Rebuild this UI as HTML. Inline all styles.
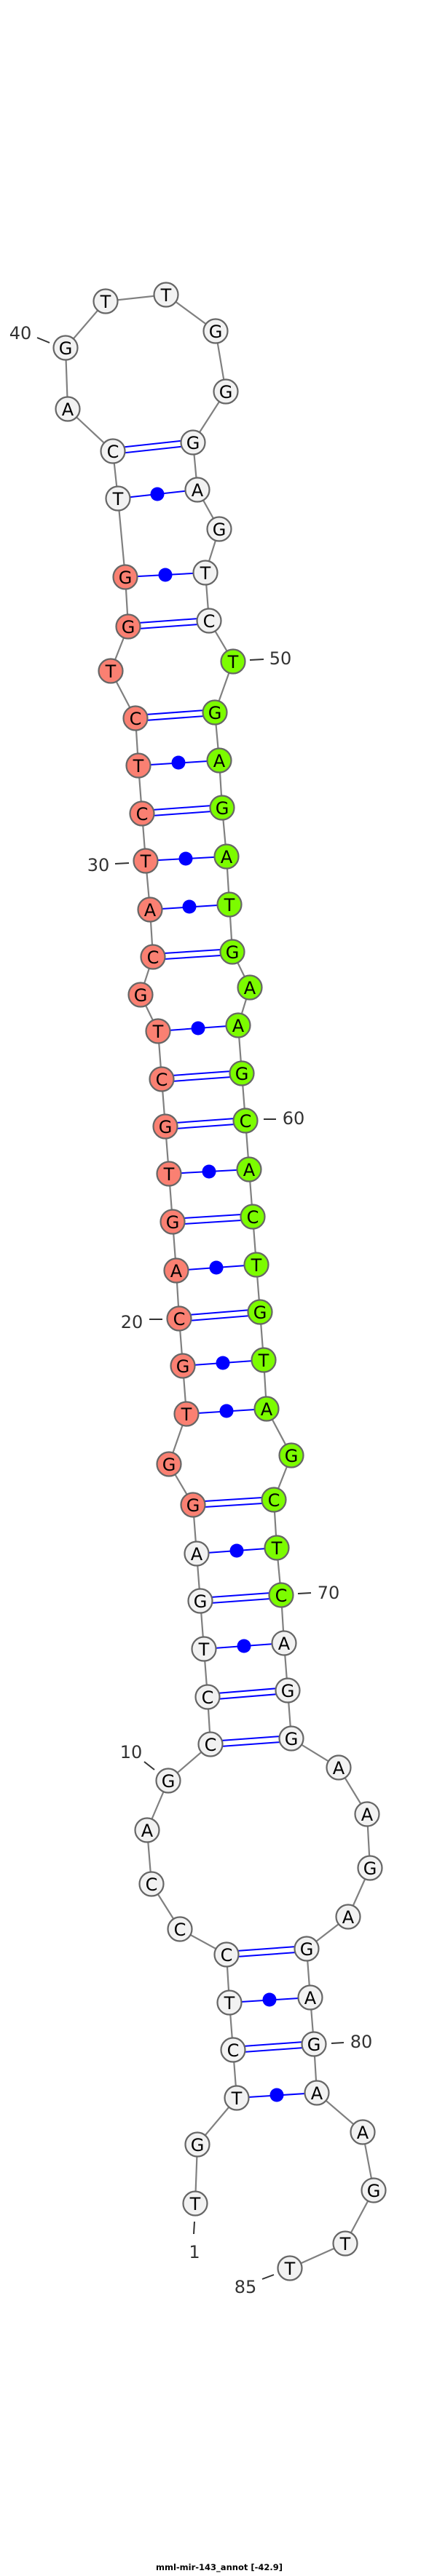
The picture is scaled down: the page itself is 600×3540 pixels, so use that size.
<!DOCTYPE html>
<html><head><meta charset="utf-8"><style>
html,body{margin:0;padding:0;background:#fff;}
svg{display:block;}
.n ellipse{stroke:#666;stroke-width:2.2;}
.w{fill:#f2f2f2;} .r{fill:#fa8072;} .g{fill:#7cfc00;}
.t{font-family:"DejaVu Sans","Liberation Sans",sans-serif;font-size:24px;text-anchor:middle;dominant-baseline:central;fill:#000;}
.l{font-family:"DejaVu Sans","Liberation Sans",sans-serif;font-size:24px;text-anchor:middle;dominant-baseline:central;fill:#333;}
.k{stroke:#333;stroke-width:2;}
.p{stroke:#0000ff;stroke-width:2;}
</style></head><body>
<svg width="600" height="3540" viewBox="0 0 600 3540" xmlns="http://www.w3.org/2000/svg">
<polyline fill="none" stroke="#808080" stroke-width="2.2" points="268,3028 271,2947 325,2883 320,2817 315,2752 311,2686 247,2651 208,2589 202,2515 231,2447 289,2397 285,2332 280,2266 275,2200 270,2135 265,2068 232,2012 256,1943 251,1877 246,1812 242,1746 237,1679 232,1613 227,1548 222,1483 217,1417 193,1367 210,1315 206,1250 200,1183 195,1118 190,1052 186,987 152,922 176,861 172,793 162,685 155,620 93,562 90,478 145,414 228,405 296,455 310,538 265,608 271,673 301,727 282,787 287,853 320,909 295,979 301,1045 305,1110 311,1177 315,1243 319,1308 343,1357 327,1409 332,1475 337,1540 342,1607 347,1672 352,1738 357,1803 362,1869 366,1936 400,2000 376,2061 380,2127 386,2192 390,2258 395,2323 400,2389 465,2429 504,2493 508,2567 478,2634 421,2678 426,2745 431,2809 435,2876 498,2930 513,3010 474,3083 398,3117"/>
<g class="p">
<!-- double (G-C) -->
<line x1="155" y1="616" x2="265" y2="604"/><line x1="155" y1="624" x2="265" y2="612"/>
<line x1="176" y1="857" x2="287" y2="849"/><line x1="176" y1="865" x2="287" y2="857"/>
<line x1="186" y1="983" x2="295" y2="975"/><line x1="186" y1="991" x2="295" y2="983"/>
<line x1="195" y1="1114" x2="305" y2="1106"/><line x1="195" y1="1122" x2="305" y2="1114"/>
<line x1="210" y1="1311" x2="319" y2="1304"/><line x1="210" y1="1319" x2="319" y2="1312"/>
<line x1="222" y1="1479" x2="332" y2="1471"/><line x1="222" y1="1487" x2="332" y2="1479"/>
<line x1="227" y1="1544" x2="337" y2="1536"/><line x1="227" y1="1552" x2="337" y2="1544"/>
<line x1="237" y1="1675" x2="347" y2="1668"/><line x1="237" y1="1683" x2="347" y2="1676"/>
<line x1="246" y1="1808" x2="357" y2="1799"/><line x1="246" y1="1816" x2="357" y2="1807"/>
<line x1="265" y1="2064" x2="376" y2="2057"/><line x1="265" y1="2072" x2="376" y2="2065"/>
<line x1="275" y1="2196" x2="386" y2="2188"/><line x1="275" y1="2204" x2="386" y2="2196"/>
<line x1="285" y1="2328" x2="395" y2="2319"/><line x1="285" y1="2336" x2="395" y2="2327"/>
<line x1="289" y1="2393" x2="400" y2="2385"/><line x1="289" y1="2401" x2="400" y2="2393"/>
<line x1="311" y1="2682" x2="421" y2="2674"/><line x1="311" y1="2690" x2="421" y2="2682"/>
<line x1="320" y1="2813" x2="431" y2="2805"/><line x1="320" y1="2821" x2="431" y2="2813"/>
<!-- single with dot -->
<line x1="162" y1="685" x2="271" y2="673"/>
<line x1="172" y1="793" x2="282" y2="787"/>
<line x1="190" y1="1052" x2="301" y2="1045"/>
<line x1="200" y1="1183" x2="311" y2="1177"/>
<line x1="206" y1="1250" x2="315" y2="1243"/>
<line x1="217" y1="1417" x2="327" y2="1409"/>
<line x1="232" y1="1613" x2="342" y2="1607"/>
<line x1="242" y1="1746" x2="352" y2="1738"/>
<line x1="251" y1="1877" x2="362" y2="1869"/>
<line x1="256" y1="1943" x2="366" y2="1936"/>
<line x1="270" y1="2135" x2="380" y2="2127"/>
<line x1="280" y1="2266" x2="390" y2="2258"/>
<line x1="315" y1="2752" x2="426" y2="2745"/>
<line x1="325" y1="2883" x2="435" y2="2876"/>
</g>
<g fill="#0000ff">
<circle cx="216" cy="679" r="9.5"/><circle cx="227" cy="790" r="9.5"/><circle cx="245" cy="1048" r="9.5"/>
<circle cx="255" cy="1180" r="9.5"/><circle cx="260" cy="1246" r="9.5"/><circle cx="272" cy="1413" r="9.5"/>
<circle cx="287" cy="1610" r="9.5"/><circle cx="297" cy="1742" r="9.5"/><circle cx="306" cy="1873" r="9.5"/>
<circle cx="311" cy="1939" r="9.5"/><circle cx="325" cy="2131" r="9.5"/><circle cx="335" cy="2262" r="9.5"/>
<circle cx="370" cy="2748" r="9.5"/><circle cx="380" cy="2879" r="9.5"/>
</g>
<g class="n">
<ellipse class="w" cx="268" cy="3028" rx="16.5" ry="16.5"/><ellipse class="w" cx="271" cy="2947" rx="16.5" ry="16.5"/>
<ellipse class="w" cx="325" cy="2883" rx="16.5" ry="16.5"/><ellipse class="w" cx="320" cy="2817" rx="16.5" ry="16.5"/>
<ellipse class="w" cx="315" cy="2752" rx="16.5" ry="16.5"/><ellipse class="w" cx="311" cy="2686" rx="16.5" ry="16.5"/>
<ellipse class="w" cx="247" cy="2651" rx="16.5" ry="16.5"/><ellipse class="w" cx="208" cy="2589" rx="16.5" ry="16.5"/>
<ellipse class="w" cx="202" cy="2515" rx="16.5" ry="16.5"/><ellipse class="w" cx="231" cy="2447" rx="16.5" ry="16.5"/>
<ellipse class="w" cx="289" cy="2397" rx="16.5" ry="16.5"/><ellipse class="w" cx="285" cy="2332" rx="16.5" ry="16.5"/>
<ellipse class="w" cx="280" cy="2266" rx="16.5" ry="16.5"/><ellipse class="w" cx="275" cy="2200" rx="16.5" ry="16.5"/>
<ellipse class="w" cx="270" cy="2135" rx="16.5" ry="16.5"/>
<ellipse class="r" cx="265" cy="2068" rx="16.5" ry="16.5"/><ellipse class="r" cx="232" cy="2012" rx="16.5" ry="16.5"/>
<ellipse class="r" cx="256" cy="1943" rx="16.5" ry="16.5"/><ellipse class="r" cx="251" cy="1877" rx="16.5" ry="16.5"/>
<ellipse class="r" cx="246" cy="1812" rx="16.5" ry="16.5"/><ellipse class="r" cx="242" cy="1746" rx="16.5" ry="16.5"/>
<ellipse class="r" cx="237" cy="1679" rx="16.5" ry="16.5"/><ellipse class="r" cx="232" cy="1613" rx="16.5" ry="16.5"/>
<ellipse class="r" cx="227" cy="1548" rx="16.5" ry="16.5"/><ellipse class="r" cx="222" cy="1483" rx="16.5" ry="16.5"/>
<ellipse class="r" cx="217" cy="1417" rx="16.5" ry="16.5"/><ellipse class="r" cx="193" cy="1367" rx="16.5" ry="16.5"/>
<ellipse class="r" cx="210" cy="1315" rx="16.5" ry="16.5"/><ellipse class="r" cx="206" cy="1250" rx="16.5" ry="16.5"/>
<ellipse class="r" cx="200" cy="1183" rx="16.5" ry="16.5"/><ellipse class="r" cx="195" cy="1118" rx="16.5" ry="16.5"/>
<ellipse class="r" cx="190" cy="1052" rx="16.5" ry="16.5"/><ellipse class="r" cx="186" cy="987" rx="16.5" ry="16.5"/>
<ellipse class="r" cx="152" cy="922" rx="16.5" ry="16.5"/><ellipse class="r" cx="176" cy="861" rx="16.5" ry="16.5"/>
<ellipse class="r" cx="172" cy="793" rx="16.5" ry="16.5"/>
<ellipse class="w" cx="162" cy="685" rx="16.5" ry="16.5"/><ellipse class="w" cx="155" cy="620" rx="16.5" ry="16.5"/>
<ellipse class="w" cx="93" cy="562" rx="16.5" ry="16.5"/><ellipse class="w" cx="90" cy="478" rx="16.5" ry="16.5"/>
<ellipse class="w" cx="145" cy="414" rx="16.5" ry="16.5"/><ellipse class="w" cx="228" cy="405" rx="16.5" ry="16.5"/>
<ellipse class="w" cx="296" cy="455" rx="16.5" ry="16.5"/><ellipse class="w" cx="310" cy="538" rx="16.5" ry="16.5"/>
<ellipse class="w" cx="265" cy="608" rx="16.5" ry="16.5"/><ellipse class="w" cx="271" cy="673" rx="16.5" ry="16.5"/>
<ellipse class="w" cx="301" cy="727" rx="16.5" ry="16.5"/><ellipse class="w" cx="282" cy="787" rx="16.5" ry="16.5"/>
<ellipse class="w" cx="287" cy="853" rx="16.5" ry="16.5"/>
<ellipse class="g" cx="320" cy="909" rx="16.5" ry="16.5"/><ellipse class="g" cx="295" cy="979" rx="16.5" ry="16.5"/>
<ellipse class="g" cx="301" cy="1045" rx="16.5" ry="16.5"/><ellipse class="g" cx="305" cy="1110" rx="16.5" ry="16.5"/>
<ellipse class="g" cx="311" cy="1177" rx="16.5" ry="16.5"/><ellipse class="g" cx="315" cy="1243" rx="16.5" ry="16.5"/>
<ellipse class="g" cx="319" cy="1308" rx="16.5" ry="16.5"/><ellipse class="g" cx="343" cy="1357" rx="16.5" ry="16.5"/>
<ellipse class="g" cx="327" cy="1409" rx="16.5" ry="16.5"/><ellipse class="g" cx="332" cy="1475" rx="16.5" ry="16.5"/>
<ellipse class="g" cx="337" cy="1540" rx="16.5" ry="16.5"/><ellipse class="g" cx="342" cy="1607" rx="16.5" ry="16.5"/>
<ellipse class="g" cx="347" cy="1672" rx="16.5" ry="16.5"/><ellipse class="g" cx="352" cy="1738" rx="16.5" ry="16.5"/>
<ellipse class="g" cx="357" cy="1803" rx="16.5" ry="16.5"/><ellipse class="g" cx="362" cy="1869" rx="16.5" ry="16.5"/>
<ellipse class="g" cx="366" cy="1936" rx="16.5" ry="16.5"/><ellipse class="g" cx="400" cy="2000" rx="16.5" ry="16.5"/>
<ellipse class="g" cx="376" cy="2061" rx="16.5" ry="16.5"/><ellipse class="g" cx="380" cy="2127" rx="16.5" ry="16.5"/>
<ellipse class="g" cx="386" cy="2192" rx="16.5" ry="16.5"/>
<ellipse class="w" cx="390" cy="2258" rx="16.5" ry="16.5"/><ellipse class="w" cx="395" cy="2323" rx="16.5" ry="16.5"/>
<ellipse class="w" cx="400" cy="2389" rx="16.5" ry="16.5"/><ellipse class="w" cx="465" cy="2429" rx="16.5" ry="16.5"/>
<ellipse class="w" cx="504" cy="2493" rx="16.5" ry="16.5"/><ellipse class="w" cx="508" cy="2567" rx="16.5" ry="16.5"/>
<ellipse class="w" cx="478" cy="2634" rx="16.5" ry="16.5"/><ellipse class="w" cx="421" cy="2678" rx="16.5" ry="16.5"/>
<ellipse class="w" cx="426" cy="2745" rx="16.5" ry="16.5"/><ellipse class="w" cx="431" cy="2809" rx="16.5" ry="16.5"/>
<ellipse class="w" cx="435" cy="2876" rx="16.5" ry="16.5"/><ellipse class="w" cx="498" cy="2930" rx="16.5" ry="16.5"/>
<ellipse class="w" cx="513" cy="3010" rx="16.5" ry="16.5"/><ellipse class="w" cx="474" cy="3083" rx="16.5" ry="16.5"/>
<ellipse class="w" cx="398" cy="3117" rx="16.5" ry="16.5"/>
</g>
<g class="t">
<text x="268" y="3029">T</text><text x="271" y="2948">G</text><text x="325" y="2884">T</text><text x="320" y="2818">C</text>
<text x="315" y="2753">T</text><text x="311" y="2687">C</text><text x="247" y="2652">C</text><text x="208" y="2590">C</text>
<text x="202" y="2516">A</text><text x="231" y="2448">G</text><text x="289" y="2398">C</text><text x="285" y="2333">C</text>
<text x="280" y="2267">T</text><text x="275" y="2201">G</text><text x="270" y="2136">A</text><text x="265" y="2069">G</text>
<text x="232" y="2013">G</text><text x="256" y="1944">T</text><text x="251" y="1878">G</text><text x="246" y="1813">C</text>
<text x="242" y="1747">A</text><text x="237" y="1680">G</text><text x="232" y="1614">T</text><text x="227" y="1549">G</text>
<text x="222" y="1484">C</text><text x="217" y="1418">T</text><text x="193" y="1368">G</text><text x="210" y="1316">C</text>
<text x="206" y="1251">A</text><text x="200" y="1184">T</text><text x="195" y="1119">C</text><text x="190" y="1053">T</text>
<text x="186" y="988">C</text><text x="152" y="923">T</text><text x="176" y="862">G</text><text x="172" y="794">G</text>
<text x="162" y="686">T</text><text x="155" y="621">C</text><text x="93" y="563">A</text><text x="90" y="479">G</text>
<text x="145" y="415">T</text><text x="228" y="406">T</text><text x="296" y="456">G</text><text x="310" y="539">G</text>
<text x="265" y="609">G</text><text x="271" y="674">A</text><text x="301" y="728">G</text><text x="282" y="788">T</text>
<text x="287" y="854">C</text><text x="320" y="910">T</text><text x="295" y="980">G</text><text x="301" y="1046">A</text>
<text x="305" y="1111">G</text><text x="311" y="1178">A</text><text x="315" y="1244">T</text><text x="319" y="1309">G</text>
<text x="343" y="1358">A</text><text x="327" y="1410">A</text><text x="332" y="1476">G</text><text x="337" y="1541">C</text>
<text x="342" y="1608">A</text><text x="347" y="1673">C</text><text x="352" y="1739">T</text><text x="357" y="1804">G</text>
<text x="362" y="1870">T</text><text x="366" y="1937">A</text><text x="400" y="2001">G</text><text x="376" y="2062">C</text>
<text x="380" y="2128">T</text><text x="386" y="2193">C</text><text x="390" y="2259">A</text><text x="395" y="2324">G</text>
<text x="400" y="2390">G</text><text x="465" y="2430">A</text><text x="504" y="2494">A</text><text x="508" y="2568">G</text>
<text x="478" y="2635">A</text><text x="421" y="2679">G</text><text x="426" y="2746">A</text><text x="431" y="2810">G</text>
<text x="435" y="2877">A</text><text x="498" y="2931">A</text><text x="513" y="3011">G</text><text x="474" y="3084">T</text>
<text x="398" y="3118">T</text>
</g>
<g class="k">
<line x1="198" y1="2421" x2="212" y2="2432"/><line x1="205" y1="1813" x2="223" y2="1813"/>
<line x1="158" y1="1187" x2="177" y2="1186"/><line x1="51" y1="464" x2="68" y2="471"/>
<line x1="343" y1="907" x2="362" y2="906"/><line x1="362" y1="1538" x2="379" y2="1538"/>
<line x1="409" y1="2190" x2="427" y2="2189"/><line x1="455" y1="2808" x2="472" y2="2807"/>
<line x1="267" y1="3053" x2="266" y2="3070"/><line x1="360" y1="3132" x2="376" y2="3126"/>
</g>
<g class="l">
<text x="180" y="2408">10</text><text x="181" y="1817">20</text><text x="135" y="1189">30</text>
<text x="28" y="458">40</text><text x="385" y="905">50</text><text x="403" y="1537">60</text>
<text x="451" y="2189">70</text><text x="496" y="2806">80</text><text x="267" y="3095">1</text>
<text x="337" y="3143">85</text>
</g>
<text x="301" y="3532" text-anchor="middle" font-family="'DejaVu Sans','Liberation Sans',sans-serif" font-size="11.5" font-weight="bold" fill="#000">mml-mir-143_annot [-42.9]</text>
</svg>
</body></html>
